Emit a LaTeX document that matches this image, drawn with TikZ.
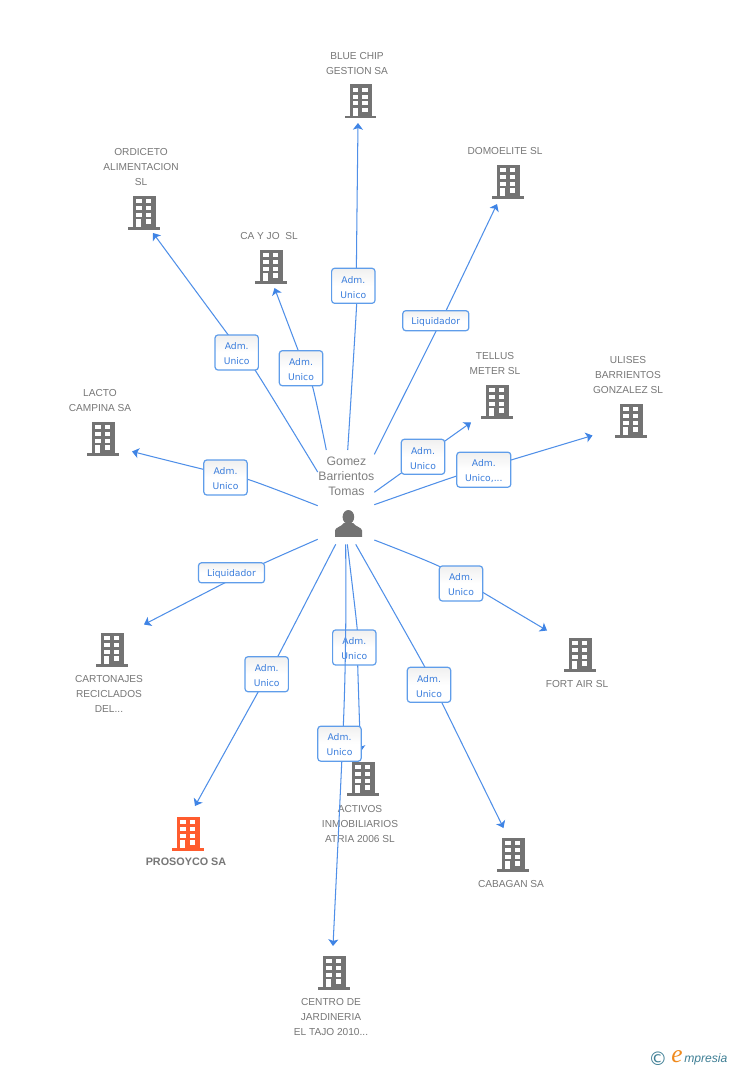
\documentclass[tikz,border=0pt]{standalone}
\usepackage{fontspec}
\setmainfont{Liberation Sans}
\newfontfamily\dejavu{DejaVu Sans}
\newfontfamily\lserif{Liberation Serif}
\usetikzlibrary{arrows.meta}
\definecolor{linkblue}{HTML}{4F8FE8}
\definecolor{tipblue}{HTML}{3F84E5}
\definecolor{textblue}{HTML}{3A7DDC}
\definecolor{boxblue}{HTML}{5F9DEA}
\definecolor{icongrey}{HTML}{737373}
\definecolor{iconorange}{HTML}{FF5C2E}
\definecolor{txtgrey}{HTML}{777777}
\definecolor{logoteal}{HTML}{3F7F95}
\definecolor{logoorange}{HTML}{F08A1D}
\newcommand{\ls}{\rule{0pt}{7.2pt}}
\tikzset{
  x=0.75pt,y=-0.75pt,
  conn/.style={draw=linkblue,line width=0.78pt,-{Stealth[length=5pt,width=7.5pt,inset=1.2pt,color=tipblue]}},
  lab/.style={draw=boxblue,line width=0.9pt,rounded corners=2.2pt,top color=black!6,bottom color=white,
    middle color=white,text=textblue,font=\dejavu\fontsize{6.9}{11.25}\selectfont,align=center,inner sep=0pt,
    minimum width=32.5pt,minimum height=26.25pt},
  labliq/.style={lab,minimum width=49.5pt,minimum height=15pt},
  labwide/.style={lab,minimum width=40.5pt},
  txtname/.style={text=txtgrey,font=\fontsize{7.6}{11.25}\selectfont,align=center,inner sep=0pt},
  bldbox/.style={inner sep=0pt,minimum width=24pt,minimum height=25pt},
}
% building icon: \bld{node name}{x}{y}{colour}
\newcommand{\bld}[4]{%
  \node[bldbox] (#1) at (#2,#3) {};
  \begin{scope}[shift={(#2,#3)}]
    \fill[#4] (-11,-16.3) rectangle (11.7,16);
    \fill[#4] (-15.7,15) rectangle (15.7,17.6);
    \foreach \cx in {-7.8,1.5}{\foreach \cy in {-12.7,-6,0.6}{
      \fill[white] (\cx,\cy) rectangle (\cx+5.5,\cy+4);}}
    \fill[white] (-7.8,7.2) rectangle (-2.8,15);
    \fill[white] (1.5,7.2) rectangle (7,11.8);
  \end{scope}}
\begin{document}
\begin{tikzpicture}
\useasboundingbox (0,0) rectangle (728,1070);
\fill[white] (0,0) rectangle (728,1070);
% buildings
\bld{bBlue}{360.5}{100.7}{icongrey}
\bld{bDomo}{508}{181}{icongrey}
\bld{bOrdi}{144}{212}{icongrey}
\bld{bCa}{271}{266}{icongrey}
\bld{bTell}{497}{401}{icongrey}
\bld{bUli}{631}{420}{icongrey}
\bld{bLac}{103}{438}{icongrey}
\bld{bCart}{112}{649}{icongrey}
\bld{bFort}{580}{654}{icongrey}
\bld{bCab}{513}{854}{icongrey}
\bld{bPro}{188}{833}{iconorange}
\bld{bAct}{363}{778}{icongrey}
\bld{bCen}{334}{972}{icongrey}
% names
\node[txtname] (tBlue) at (357,63.2) {BLUE CHIP\\GESTION SA};
\node[txtname] (tDomo) at (505,150.7) {DOMOELITE SL};
\node[txtname] (tOrdi) at (141,166.7) {ORDICETO\\ALIMENTACION\\SL};
\node[txtname] (tCa) at (269,235.7) {CA Y JO\ \ SL};
\node[txtname] (tTell) at (495,363.2) {TELLUS\\METER SL};
\node[txtname] (tUli) at (628,374.7) {ULISES\\BARRIENTOS\\GONZALEZ SL};
\node[txtname] (tLac) at (100,400.2) {LACTO\\CAMPINA SA};
\node[txtname] (tCart) at (109,693.7) {CARTONAJES\\RECICLADOS\\DEL...};
\node[txtname] (tFort) at (577,683.7) {FORT AIR SL};
\node[txtname,font=\bfseries\fontsize{8.1}{11.25}\selectfont] (tPro) at (186,861.7) {PROSOYCO SA};
\node[txtname] (tAct) at (360,823.7) {ACTIVOS\\INMOBILIARIOS\\ATRIA 2006 SL};
\node[txtname] (tCab) at (511,883.7) {CABAGAN SA};
\node[txtname] (tCen) at (331,1016.7) {CENTRO DE\\JARDINERIA\\EL TAJO 2010...};
\node[txtname,text=black!50,font=\fontsize{9.2}{11.25}\selectfont] (tGom) at (346.4,476) {Gomez\\Barrientos\\Tomas};
% person
\node[inner sep=0pt,minimum width=20pt,minimum height=20pt] (person) at (348.5,523.5) {};
\fill[icongrey] (348.4,517) ellipse (5.8 and 7);
\fill[icongrey] (335,536.8) -- (335,530.5) .. controls (335,527.5) and (341,527) .. (344,523) -- (353,523) .. controls (356,527) and (362,527.5) .. (362,530.5) -- (362,536.8) -- cycle;
% waypoints: start, label entry, label exit, end
\coordinate (s1) at (347.7,450); \coordinate (a1) at (356.7,303); \coordinate (b1) at (356.4,268); \coordinate (e1) at (358,123);
\coordinate (s2) at (317.7,472); \coordinate (a2) at (255,370); \coordinate (b2) at (228.3,335); \coordinate (e2) at (153,233);
\coordinate (s3) at (326.3,450); \coordinate (a3) at (312.3,385.7); \coordinate (b3) at (298.3,350.7); \coordinate (e3) at (274.5,288);
\coordinate (s4) at (374.3,454.3); \coordinate (a4) at (436.3,330.7); \coordinate (b4) at (446,310.7); \coordinate (e4) at (497,204);
\coordinate (s5) at (374.3,492.3); \coordinate (a5) at (401.7,472.7); \coordinate (b5) at (445,441); \coordinate (e5) at (471,422.5);
\coordinate (s6) at (374.3,504.7); \coordinate (a6) at (456.7,476); \coordinate (b6) at (511,460); \coordinate (e6) at (592.5,435.5);
\coordinate (s7) at (317.7,505.7); \coordinate (a7) at (247.7,479.3); \coordinate (b7) at (203.3,469.3); \coordinate (e7) at (132,451.5);
\coordinate (s8) at (317.7,539.3); \coordinate (a8) at (264.3,563); \coordinate (b8) at (225,582.7); \coordinate (e8) at (144,624.5);
\coordinate (s9) at (374.3,540); \coordinate (a9) at (440,566.7); \coordinate (b9) at (482.7,592.3); \coordinate (e9) at (547,630.5);
\coordinate (s10) at (355.7,544.3); \coordinate (a10) at (425,667.3); \coordinate (b10) at (441.7,702.3); \coordinate (e10) at (503.5,828);
\coordinate (s11) at (335.7,544.3); \coordinate (a11) at (277.7,656.7); \coordinate (b11) at (258.3,691.7); \coordinate (e11) at (195,806);
\coordinate (s12) at (347.3,544.3); \coordinate (a12) at (357.3,630); \coordinate (b12) at (357.7,665); \coordinate (e12) at (360.5,752);
\coordinate (s13) at (345.7,544.3); \coordinate (a13) at (345.7,630); \coordinate (b13) at (343.3,726.7); \coordinate (e13) at (333,946);
% connectors and labels
\draw[conn] plot[smooth,tension=.5] coordinates {(s1) (a1) (b1) (e1)};
\node[lab] (l1) at (353.3,285.8) {\ls Adm.\\Unico};
\draw[conn] plot[smooth,tension=.5] coordinates {(s2) (a2) (b2) (e2)};
\node[lab] (l2) at (236.7,352.5) {\ls Adm.\\Unico};
\draw[conn] plot[smooth,tension=.5] coordinates {(s3) (a3) (b3) (e3)};
\node[lab] (l3) at (301,368.2) {\ls Adm.\\Unico};
\draw[conn] plot[smooth,tension=.5] coordinates {(s4) (a4) (b4) (e4)};
\node[labliq] (l4) at (435.8,320.7) {\ls Liquidador};
\draw[conn] plot[smooth,tension=.5] coordinates {(s5) (a5) (b5) (e5)};
\node[lab] (l5) at (423,456.8) {\ls Adm.\\Unico};
\draw[conn] plot[smooth,tension=.5] coordinates {(s6) (a6) (b6) (e6)};
\node[labwide] (l6) at (483.8,469.7) {\ls Adm.\\Unico,...};
\draw[conn] plot[smooth,tension=.5] coordinates {(s7) (a7) (b7) (e7)};
\node[lab] (l7) at (225.5,477.5) {\ls Adm.\\Unico};
\draw[conn] plot[smooth,tension=.5] coordinates {(s8) (a8) (b8) (e8)};
\node[labliq] (l8) at (231.5,572.8) {\ls Liquidador};
\draw[conn] plot[smooth,tension=.5] coordinates {(s9) (a9) (b9) (e9)};
\node[lab] (l9) at (461,583.5) {\ls Adm.\\Unico};
\draw[conn] plot[smooth,tension=.5] coordinates {(s10) (a10) (b10) (e10)};
\node[lab] (l10) at (429,684.8) {\ls Adm.\\Unico};
\draw[conn] plot[smooth,tension=.5] coordinates {(s11) (a11) (b11) (e11)};
\node[lab] (l11) at (266.7,674.2) {\ls Adm.\\Unico};
\draw[conn] plot[smooth,tension=.5] coordinates {(s12) (a12) (b12) (e12)};
\node[lab] (l12) at (354.3,647.5) {\ls Adm.\\Unico};
\draw[conn] plot[smooth,tension=.5] coordinates {(s13) (a13) (b13) (e13)};
\node[lab] (l13) at (339.5,743.7) {\ls Adm.\\Unico};
% logo
\node[inner sep=0pt,text=logoteal,font=\dejavu\fontsize{14}{14}\selectfont] (lgC) at (658,1059) {©};
\node[inner sep=0pt,text=logoorange,font=\lserif\itshape\fontsize{19}{19}\selectfont] (lgE) at (677,1056.5) {e};
\node[inner sep=0pt,anchor=west,text=logoteal,font=\itshape\fontsize{9.1}{10}\selectfont] (lgT) at (684,1059) {mpresia};
\end{tikzpicture}
\end{document}
